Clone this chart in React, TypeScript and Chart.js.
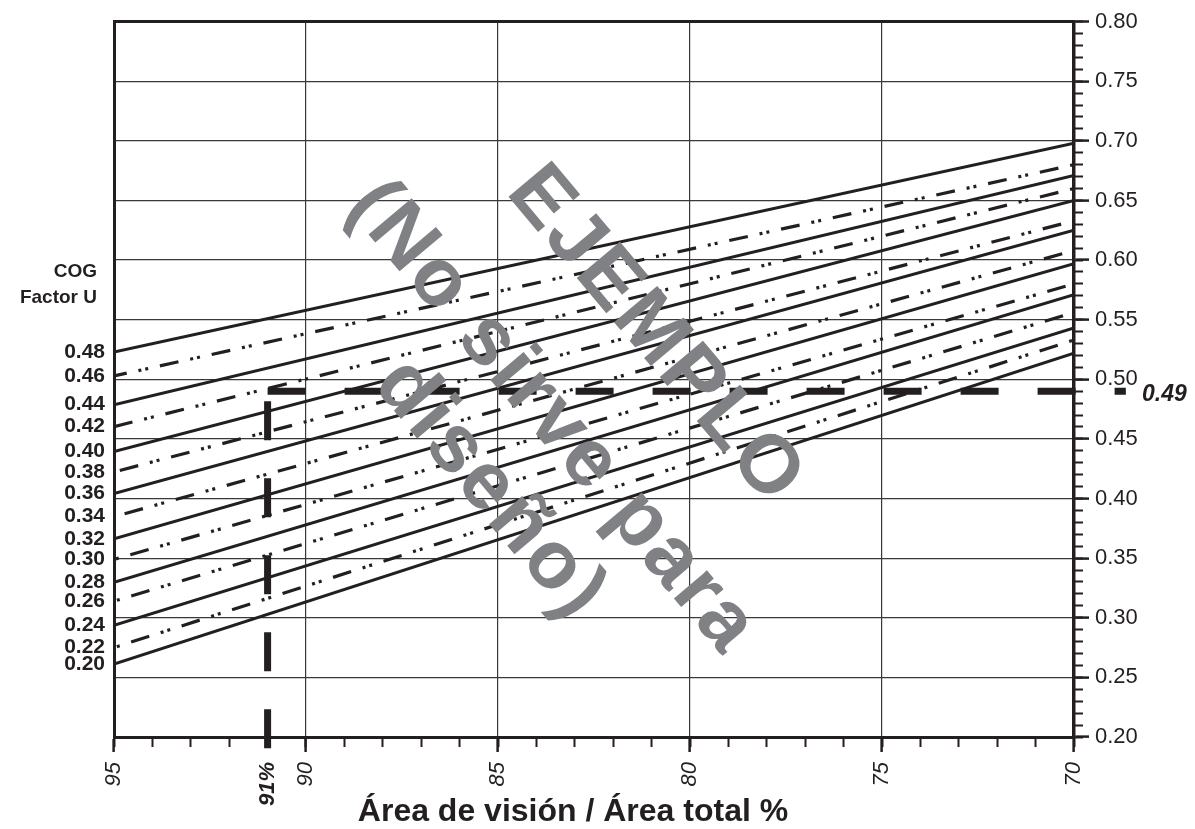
import React, { useEffect, useRef } from 'react';
import { Chart, registerables } from 'chart.js';

Chart.register(...registerables);

// ---------- data ----------
// COG U-factor curves (label shown at the left end of each line)
const cogLabels = ['0.20', '0.22', '0.24', '0.26', '0.28', '0.30', '0.32', '0.34', '0.36', '0.38', '0.40', '0.42', '0.44', '0.46', '0.48'];
// Total U-factor read on the right scale at 95 % and at 70 % vision area
const leftValues = [0.2612, 0.275, 0.2937, 0.3139, 0.3298, 0.3489, 0.3662, 0.3848, 0.4042, 0.4223, 0.4395, 0.4603, 0.4787, 0.5028, 0.5228];
const rightValues = [0.522, 0.533, 0.543, 0.556, 0.571, 0.58, 0.597, 0.608, 0.625, 0.633, 0.65, 0.66, 0.671, 0.68, 0.698];
const dashOffsets = [0, 35, 0, 35, 0, 36, 0, 42, 0, 47, 0, 0, 0, 6, 0];
const areaStart = 95;
const areaEnd = 70;

// example reading
const exampleArea = 91;
const exampleU = 0.49;
const guideAreaEnd = 68.65;
const guideUBottom = 0.1906;

// axis ticks
const xMajorTicks = [70, 75, 80, 85, 90, 91, 95];
const xMinorTicks = [70, 71, 72, 73, 74, 75, 76, 77, 78, 79, 80, 81, 82, 83, 84, 85, 86, 87, 88, 89, 90, 91, 92, 93, 94, 95];
const yMajorTicks = [0.2, 0.25, 0.3, 0.35, 0.4, 0.45, 0.5, 0.55, 0.6, 0.65, 0.7, 0.75, 0.8];
const yMinorTicks = Array.from({ length: 61 }, (_, i) => Math.round((0.2 + i * 0.01) * 100) / 100);

const xTitle = 'Área de visión / Área total %';
const yTitleLines = ['COG', 'Factor U'];
const watermarkLines = ['EJEMPLO', '(No sirve para', 'diseño)'];

// ---------- styles ----------
const INK = '#231f20';
const GRID = '#3a3838';
const FAMILY = '"Liberation Sans", Arial, Helvetica, sans-serif';
const DASH_DOT_DOT = [19, 12, 3, 4, 3, 12];

const overlayPlugin = {
  id: 'overlayText',
  afterDraw(chart: any) {
    const { ctx, chartArea, scales } = chart;
    ctx.save();
    // left axis caption
    ctx.fillStyle = INK;
    ctx.font = `bold 19px ${FAMILY}`;
    ctx.textAlign = 'right';
    ctx.textBaseline = 'middle';
    ctx.fillText(yTitleLines[0], chartArea.left - 17, 272);
    ctx.fillText(yTitleLines[1], chartArea.left - 17, 298);

    // example result label
    ctx.font = `italic bold 23px ${FAMILY}`;
    ctx.textAlign = 'left';
    ctx.fillText(exampleU.toFixed(2), chartArea.right + 68, scales.y.getPixelForValue(exampleU) + 3);

    // watermark
    ctx.fillStyle = '#808184';
    ctx.font = `bold 82px ${FAMILY}`;
    ctx.textAlign = 'center';
    ctx.textBaseline = 'middle';
    try { (ctx as any).letterSpacing = '3px'; } catch (e) { /* ignore */ }
    const centers = [[655, 336], [552, 418], [490, 490]];
    watermarkLines.forEach((t, i) => {
      ctx.save();
      ctx.translate(centers[i][0], centers[i][1]);
      ctx.rotate((50 * Math.PI) / 180);
      ctx.fillText(t, 0, 0);
      ctx.restore();
    });
    ctx.restore();
  },
};

export default function App() {
  const ref = useRef<HTMLCanvasElement>(null);

  useEffect(() => {
    document.body.style.margin = '0';
    const lineSets = cogLabels.map((lab, i) => ({
      label: 'COG ' + lab,
      data: [
        { x: areaStart, y: leftValues[i] },
        { x: areaEnd, y: rightValues[i] },
      ],
      borderColor: INK,
      borderWidth: i % 2 === 1 ? 3.2 : 3,
      borderDash: i % 2 === 1 ? DASH_DOT_DOT : [],
      borderDashOffset: dashOffsets[i],
      borderCapStyle: 'butt',
      pointRadius: 0,
      tension: 0,
      fill: false,
      xAxisID: 'x',
      yAxisID: 'y',
    }));

    const guideSets = [
      {
        label: 'guide-h',
        data: [
          { x: exampleArea, y: exampleU },
          { x: guideAreaEnd, y: exampleU },
        ],
        borderColor: INK,
        borderWidth: 7,
        borderDash: [38, 39],
        borderCapStyle: 'butt',
        pointRadius: 0,
        clip: false,
        xAxisID: 'x',
        yAxisID: 'y',
      },
      {
        label: 'guide-v',
        data: [
          { x: exampleArea, y: guideUBottom },
          { x: exampleArea, y: exampleU },
        ],
        borderColor: INK,
        borderWidth: 7,
        borderDash: [39, 38],
        borderCapStyle: 'butt',
        pointRadius: 0,
        clip: false,
        xAxisID: 'x',
        yAxisID: 'y',
      },
    ];

    const isVal = (c: any, v: number) => c && c.tick && Math.abs(c.tick.value - v) < 1e-9;

    const chart = new Chart(ref.current as HTMLCanvasElement, {
      type: 'line',
      data: { datasets: [...lineSets, ...guideSets] as any },
      options: {
        responsive: false,
        animation: false,
        devicePixelRatio: 1,
        font: { family: FAMILY },
        layout: { padding: { top: 17, left: 0, right: 49, bottom: 0 } },
        plugins: {
          legend: { display: false },
          tooltip: { enabled: false },
          title: {
            display: true,
            text: xTitle,
            position: 'bottom',
            color: INK,
            font: { family: FAMILY, size: 32, weight: 'bold', lineHeight: '2px' },
            padding: { top: 0, bottom: 16 },
          },
        },
        scales: {
          x: {
            type: 'linear',
            position: 'bottom',
            reverse: true,
            min: areaEnd,
            max: areaStart,
            afterBuildTicks: (s: any) => {
              s.ticks = xMajorTicks.map((v) => ({ value: v }));
            },
            afterFit: (s: any) => {
              s.height = 74;
            },
            ticks: {
              autoSkip: false,
              maxRotation: 90,
              minRotation: 90,
              padding: 10,
              color: INK,
              font: (c: any) => ({
                family: FAMILY,
                size: 22,
                style: 'italic',
                weight: isVal(c, exampleArea) ? 'bold' : 'normal',
              }),
              callback: (v: any) => (v === exampleArea ? `${v}%` : `${v}`),
            },
            grid: {
              color: (c: any) => (isVal(c, exampleArea) ? 'rgba(0,0,0,0)' : GRID),
              lineWidth: 1.2,
              tickLength: 15,
              tickWidth: 2.5,
              tickColor: (c: any) => (isVal(c, exampleArea) ? 'rgba(0,0,0,0)' : INK),
            },
            border: { display: true, color: INK, width: 3 },
          },
          xm: {
            type: 'linear',
            axis: 'x',
            position: { y: 0.2 },
            reverse: true,
            min: areaEnd,
            max: areaStart,
            afterBuildTicks: (s: any) => {
              s.ticks = xMinorTicks.map((v) => ({ value: v }));
            },
            ticks: { display: false },
            grid: { drawOnChartArea: false, drawTicks: true, tickLength: 10, tickWidth: 2, tickColor: INK },
            border: { display: false },
          },
          y: {
            type: 'linear',
            position: 'right',
            min: 0.2,
            max: 0.8,
            afterBuildTicks: (s: any) => {
              s.ticks = yMajorTicks.map((v) => ({ value: v }));
            },
            afterFit: (s: any) => {
              s.width = 72;
            },
            ticks: {
              autoSkip: false,
              padding: 6,
              color: INK,
              font: { family: FAMILY, size: 22 },
              callback: (v: any) => Number(v).toFixed(2),
            },
            grid: {
              color: (c: any) => (isVal(c, 0.8) ? INK : GRID),
              lineWidth: (c: any) => (isVal(c, 0.8) ? 3 : 1.2),
              tickLength: 15,
              tickWidth: 2.5,
              tickColor: INK,
            },
            border: { display: true, color: INK, width: 3.5 },
          },
          ym: {
            type: 'linear',
            axis: 'y',
            position: { x: areaEnd },
            min: 0.2,
            max: 0.8,
            afterBuildTicks: (s: any) => {
              s.ticks = yMinorTicks.map((v) => ({ value: v }));
            },
            ticks: { display: false },
            grid: { drawOnChartArea: false, drawTicks: true, tickLength: -9, tickWidth: 2, tickColor: INK },
            border: { display: false },
          },
          yl: {
            type: 'linear',
            axis: 'y',
            position: 'left',
            min: 0.2,
            max: 0.8,
            afterBuildTicks: (s: any) => {
              s.ticks = leftValues.map((v) => ({ value: v }));
            },
            afterFit: (s: any) => {
              s.width = 114;
            },
            ticks: {
              autoSkip: false,
              padding: 9,
              color: INK,
              font: { family: FAMILY, size: 21, weight: 'bold' },
              callback: (_v: any, i: number) => cogLabels[i],
            },
            grid: { drawOnChartArea: false, drawTicks: false },
            border: { display: true, color: INK, width: 3 },
          },
        },
      } as any,
      plugins: [overlayPlugin],
    });
    return () => chart.destroy();
  }, []);

  return (
    <div style={{ width: 1195, height: 829, background: '#ffffff' }}>
      <canvas ref={ref} width={1195} height={829} style={{ display: 'block' }} />
    </div>
  );
}
